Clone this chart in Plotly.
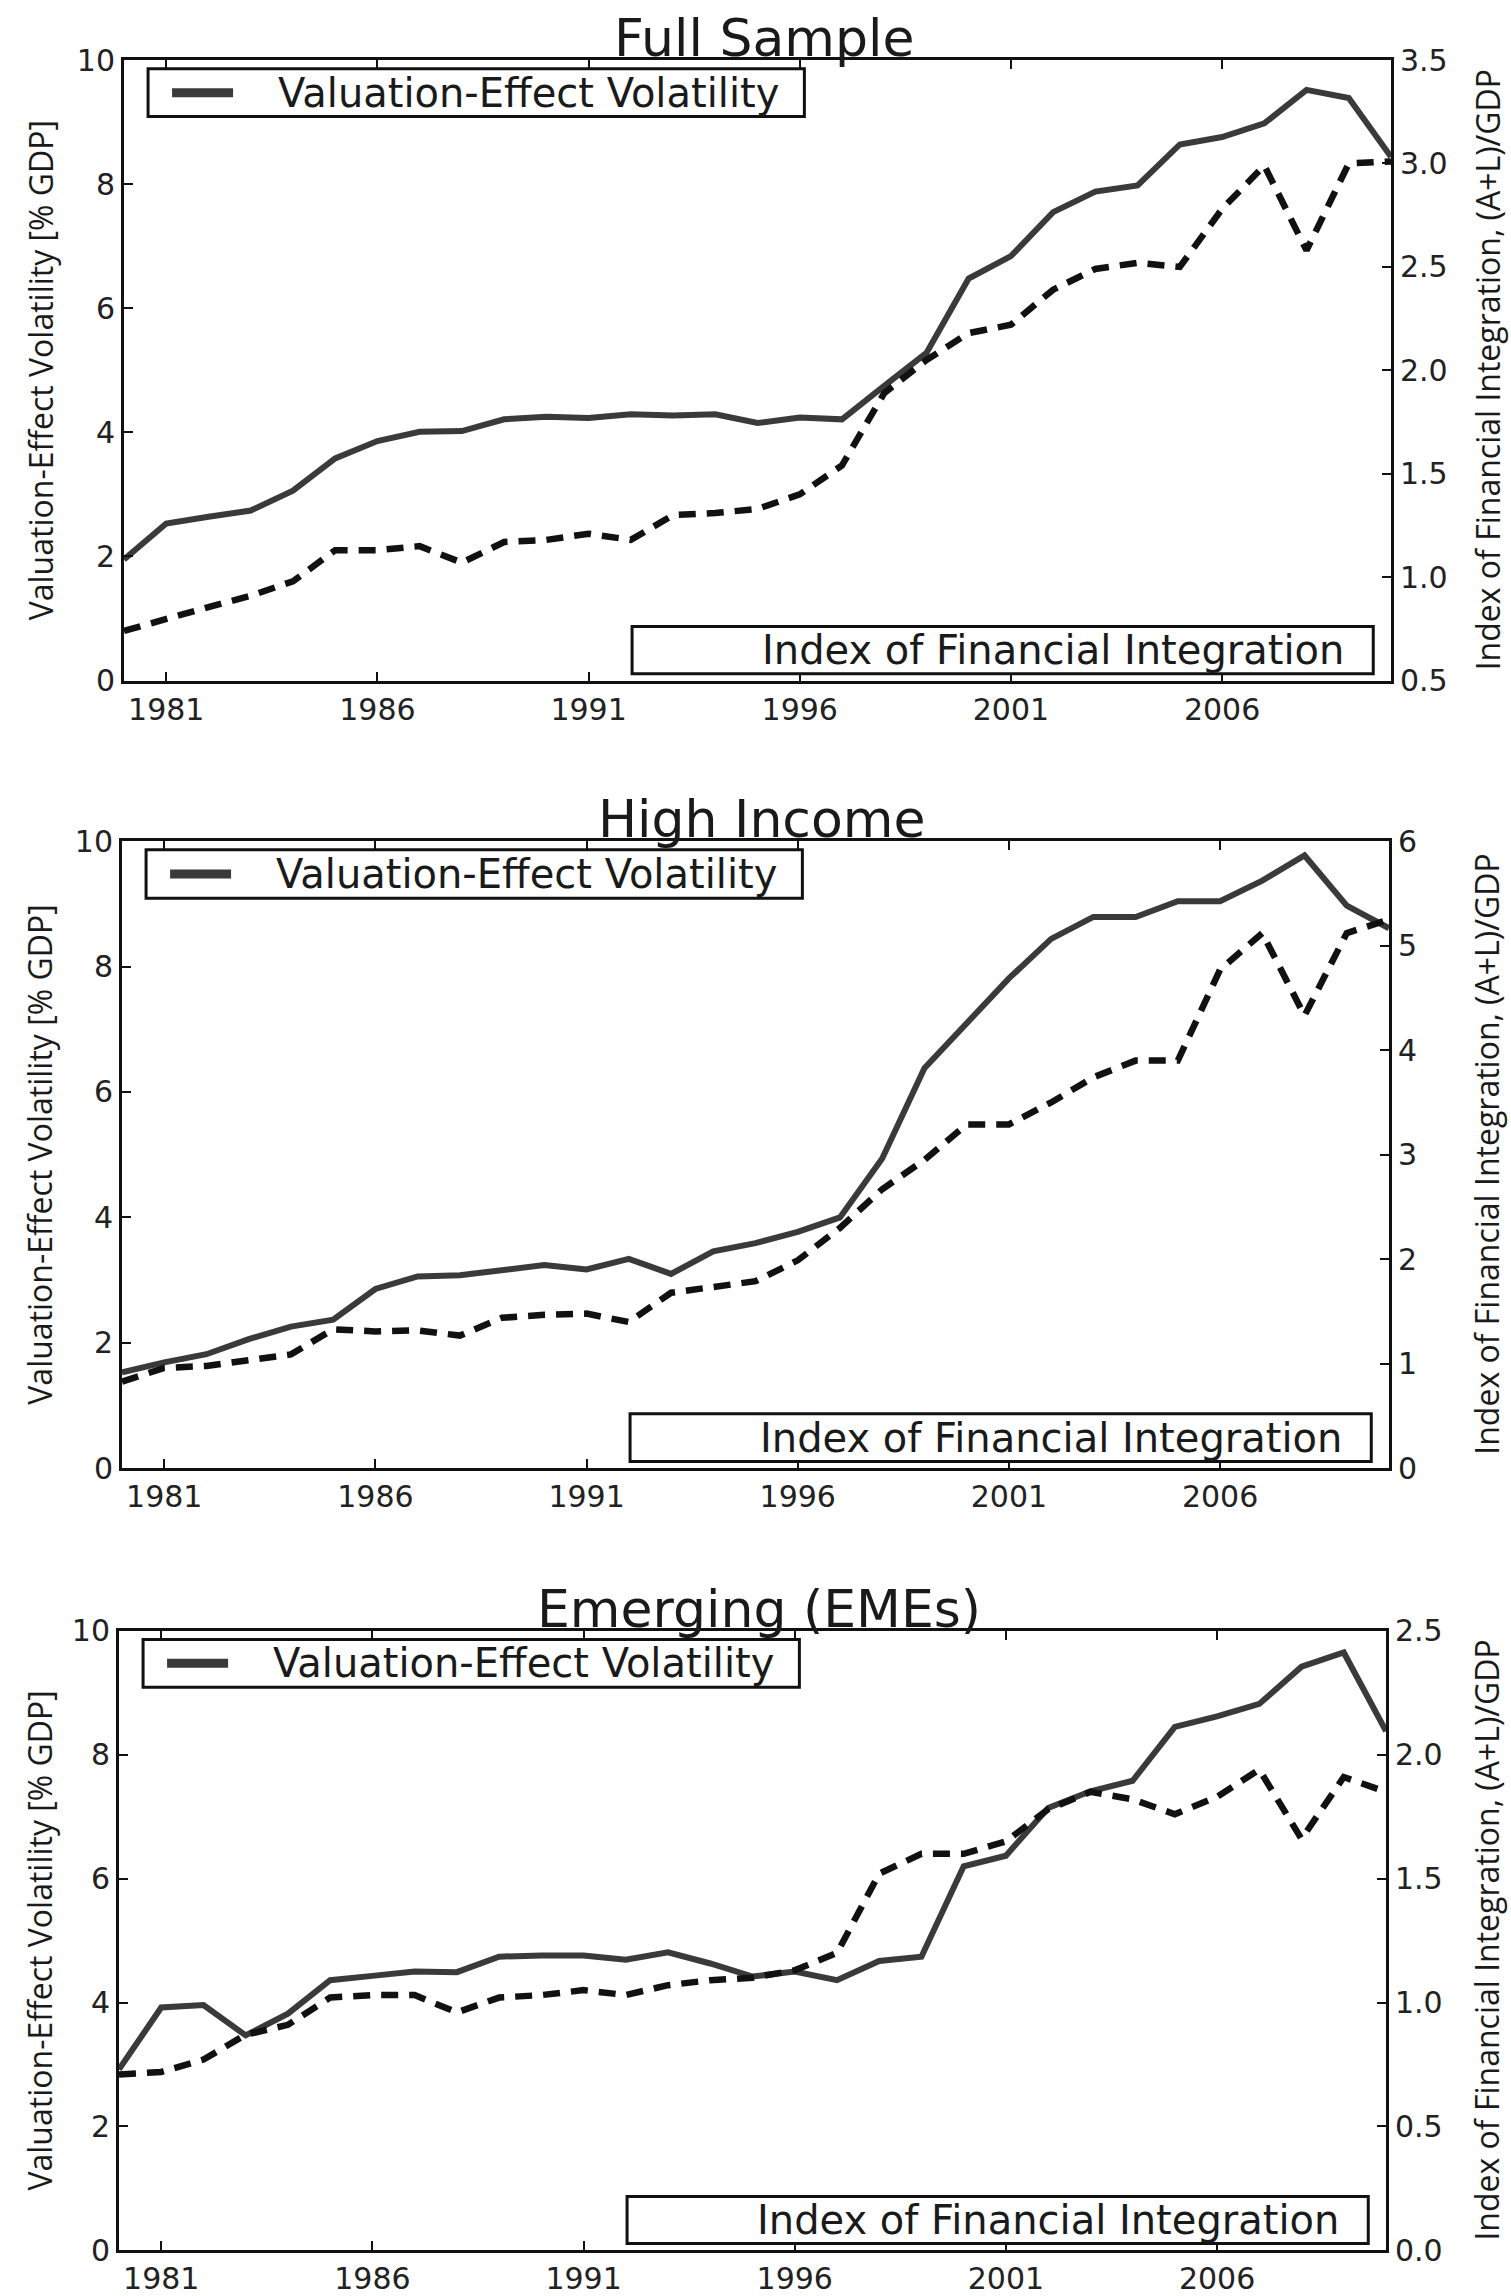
import plotly.graph_objects as go

# Annual observations, 1980-2010
years = list(range(1980, 2011))

# Full sample
full_vol = [1.95, 2.53, 2.64, 2.74, 3.06, 3.58, 3.86, 4.01, 4.02, 4.21, 4.25,
            4.23, 4.29, 4.27, 4.29, 4.15, 4.24, 4.21, 4.75, 5.28, 6.48, 6.84,
            7.55, 7.88, 7.98, 8.64, 8.76, 8.98, 9.52, 9.39, 8.44]
full_ifi = [0.74, 0.80, 0.855, 0.91, 0.98, 1.13, 1.13, 1.15, 1.07, 1.17, 1.18,
            1.21, 1.18, 1.30, 1.31, 1.33, 1.40, 1.54, 1.89, 2.05, 2.18, 2.22,
            2.39, 2.49, 2.52, 2.50, 2.78, 2.99, 2.58, 3.00, 3.01]

# High income
high_vol = [1.53, 1.69, 1.82, 2.06, 2.26, 2.37, 2.86, 3.06, 3.08, 3.15, 3.24,
            3.17, 3.34, 3.10, 3.46, 3.59, 3.77, 4.00, 4.94, 6.38, 7.11, 7.81,
            8.44, 8.79, 8.79, 9.04, 9.04, 9.37, 9.77, 8.97, 8.61]
high_ifi = [0.83, 0.96, 0.98, 1.03, 1.09, 1.33, 1.31, 1.32, 1.27, 1.44, 1.47,
            1.48, 1.40, 1.68, 1.73, 1.79, 1.99, 2.30, 2.67, 2.95, 3.29, 3.29,
            3.50, 3.74, 3.90, 3.90, 4.77, 5.12, 4.33, 5.12, 5.25]

# Emerging market economies
em_vol = [2.92, 3.92, 3.96, 3.47, 3.82, 4.36, 4.43, 4.50, 4.49, 4.74, 4.76,
          4.76, 4.69, 4.81, 4.63, 4.42, 4.50, 4.36, 4.67, 4.74, 6.20, 6.37,
          7.14, 7.41, 7.58, 8.45, 8.62, 8.82, 9.42, 9.65, 8.38]
em_ifi = [0.71, 0.72, 0.77, 0.87, 0.91, 1.02, 1.03, 1.03, 0.96, 1.02, 1.03,
          1.05, 1.03, 1.07, 1.09, 1.10, 1.13, 1.20, 1.52, 1.60, 1.60, 1.65,
          1.78, 1.85, 1.82, 1.76, 1.83, 1.94, 1.66, 1.91, 1.85]

panel_titles = ["Full Sample", "High Income", "Emerging (EMEs)"]
x_ticks = [1981, 1986, 1991, 1996, 2001, 2006]
left_ticks = [0, 2, 4, 6, 8, 10]
right_ranges = [[0.5, 3.5], [0, 6], [0, 2.5]]
right_dticks = [0.5, 1, 0.5]
right_formats = [".1f", "d", ".1f"]

vol_label = "Valuation-Effect Volatility"
ifi_label = "Index of Financial Integration"
left_title = "Valuation-Effect Volatility [% GDP]"
right_title = "Index of Financial Integration, (A+L)/GDP"

W, H = 1511, 2296
# plot boxes in pixels: (left, right, top, bottom)
boxes = [(124, 1391, 43, 677), (122, 1389, 841, 1482), (119, 1386, 1648, 2281)]

TICK_FONT = dict(family="DejaVu Sans", size=30, color="#222222")
LEG_FONT = dict(family="DejaVu Sans", size=40, color="#1a1a1a")
LABEL_FONT = dict(family="Open Sans", size=32, color="#1a1a1a")
TITLE_FONT = dict(family="DejaVu Sans", size=52, color="#1a1a1a")

series = [(full_vol, full_ifi), (high_vol, high_ifi), (em_vol, em_ifi)]

fig = go.Figure()
shapes, annotations = [], []

for i, ((vol, ifi), box) in enumerate(zip(series, boxes)):
    xa = "x" if i == 0 else f"x{i + 1}"
    yl = "y" if i == 0 else f"y{2 * i + 1}"
    yr = f"y{2 * i + 2}"
    l, r, t, b = box
    xdom = [l / W, r / W]
    ydom = [1 - b / H, 1 - t / H]
    pw = r - l

    fig.add_trace(go.Scatter(
        x=years, y=vol, mode="lines", name=vol_label, showlegend=False,
        xaxis=xa, yaxis=yl,
        line=dict(color="#3a3a3a", width=6)))
    fig.add_trace(go.Scatter(
        x=years, y=ifi, mode="lines", name=ifi_label, showlegend=False,
        xaxis=xa, yaxis=yr,
        line=dict(color="#111111", width=6.5, dash="17px,11px")))

    xkey = "xaxis" if i == 0 else f"xaxis{i + 1}"
    ylkey = "yaxis" if i == 0 else f"yaxis{2 * i + 1}"
    yrkey = f"yaxis{2 * i + 2}"

    fig.layout[xkey] = dict(
        domain=xdom, anchor=yl, range=[1980, 2010], tickvals=x_ticks,
        ticks="inside", ticklen=9, tickwidth=2, tickcolor="#111",
        showline=True, linewidth=3, linecolor="#111", mirror="ticks",
        showgrid=False, zeroline=False, tickfont=TICK_FONT)
    fig.layout[ylkey] = dict(
        domain=ydom, anchor=xa, range=[0, 10], tickvals=left_ticks,
        ticks="inside", ticklen=9, tickwidth=2, tickcolor="#111",
        showline=True, linewidth=3, linecolor="#111", mirror=True,
        showgrid=False, zeroline=False, tickfont=TICK_FONT)
    fig.layout[yrkey] = dict(
        overlaying=yl, anchor=xa, side="right", range=right_ranges[i],
        dtick=right_dticks[i], tick0=0, tickformat=right_formats[i],
        ticks="inside", ticklen=9, tickwidth=2, tickcolor="#111",
        showline=True, linewidth=3, linecolor="#111",
        showgrid=False, zeroline=False, tickfont=TICK_FONT)

    dx, dy = f"{xa} domain", f"{yl} domain"

    # upper-left legend box (solid series)
    shapes.append(dict(type="rect", xref=dx, yref=dy, x0=0.019, x1=0.537,
                       y0=0.909, y1=0.986, line=dict(color="#111", width=3),
                       fillcolor="white", layer="above"))
    shapes.append(dict(type="line", xref=dx, yref=dy,
                       x0=0.019 + 24 / pw, x1=0.019 + 85 / pw, y0=0.9475, y1=0.9475,
                       line=dict(color="#3a3a3a", width=9), layer="above"))
    annotations.append(dict(text=vol_label, xref=dx, yref=dy,
                            x=0.019 + 128 / pw, y=0.9475, xanchor="left",
                            yanchor="middle", showarrow=False, font=LEG_FONT))

    # lower-right legend box (dashed series)
    shapes.append(dict(type="rect", xref=dx, yref=dy, x0=0.401, x1=0.986,
                       y0=0.011, y1=0.087, line=dict(color="#111", width=3),
                       fillcolor="white", layer="above"))
    annotations.append(dict(text=ifi_label, xref=dx, yref=dy,
                            x=0.401 + 128 / pw, y=0.049, xanchor="left",
                            yanchor="middle", showarrow=False, font=LEG_FONT))

    # panel title
    annotations.append(dict(text=panel_titles[i], xref=dx, yref=dy,
                            x=0.505, y=1.0, xanchor="center", yanchor="bottom",
                            yshift=-10, showarrow=False, font=TITLE_FONT))

    # axis titles
    ymid = (ydom[0] + ydom[1]) / 2
    annotations.append(dict(text=left_title, xref="paper", yref="paper",
                            x=40 / W, y=ymid, xanchor="center", yanchor="middle",
                            textangle=-90, showarrow=False, font=LABEL_FONT))
    annotations.append(dict(text=right_title, xref="paper", yref="paper",
                            x=1487 / W, y=ymid, xanchor="center", yanchor="middle",
                            textangle=-90, showarrow=False, font=LABEL_FONT))

fig.update_layout(
    width=W, height=H,
    margin=dict(l=0, r=0, t=0, b=0),
    paper_bgcolor="white", plot_bgcolor="white",
    shapes=shapes, annotations=annotations,
    showlegend=False,
)

fig.write_html("out.html")
